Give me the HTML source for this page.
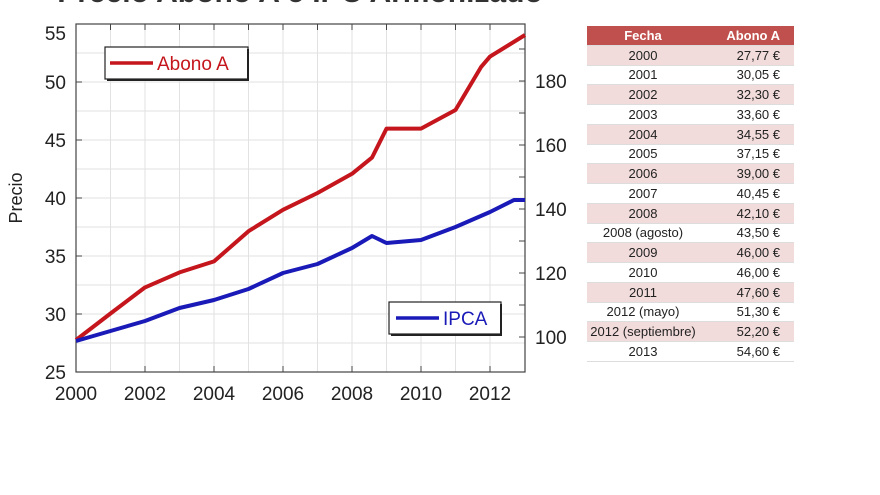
<!DOCTYPE html>
<html><head><meta charset="utf-8"><style>
html,body{margin:0;padding:0;background:#fff;width:880px;height:495px;overflow:hidden}
svg{position:absolute;left:0;top:0}
table{position:absolute;left:587px;top:26px;width:207px;border-collapse:collapse;font-family:"Liberation Sans",sans-serif;font-size:13px;color:#222}
td{height:18.76px;padding:0;border-bottom:1px solid #ddd}
td:first-child{text-align:center;width:112px}
td:last-child{text-align:right;padding-right:14px}
tr.h td{background:#c0504d;color:#fff;font-weight:bold}
tr:nth-child(even) td{background:#f2dcdb}
</style></head><body>
<svg width="880" height="495" font-family="Liberation Sans, sans-serif">
<text x="300" y="2" font-size="30" font-weight="bold" text-anchor="middle" fill="#333">Precio Abono A e IPC Armonizado</text>
<g stroke="#e2e2e2" stroke-width="1">
<line x1="110.5" y1="24" x2="110.5" y2="372"/><line x1="145" y1="24" x2="145" y2="372"/><line x1="179.5" y1="24" x2="179.5" y2="372"/><line x1="214" y1="24" x2="214" y2="372"/><line x1="248.5" y1="24" x2="248.5" y2="372"/><line x1="283" y1="24" x2="283" y2="372"/><line x1="317.5" y1="24" x2="317.5" y2="372"/><line x1="352" y1="24" x2="352" y2="372"/><line x1="386.5" y1="24" x2="386.5" y2="372"/><line x1="421" y1="24" x2="421" y2="372"/><line x1="455.5" y1="24" x2="455.5" y2="372"/><line x1="490" y1="24" x2="490" y2="372"/>
<line x1="76" y1="53" x2="525" y2="53"/><line x1="76" y1="82" x2="525" y2="82"/><line x1="76" y1="111" x2="525" y2="111"/><line x1="76" y1="140" x2="525" y2="140"/><line x1="76" y1="169" x2="525" y2="169"/><line x1="76" y1="198" x2="525" y2="198"/><line x1="76" y1="227" x2="525" y2="227"/><line x1="76" y1="256" x2="525" y2="256"/><line x1="76" y1="285" x2="525" y2="285"/><line x1="76" y1="314" x2="525" y2="314"/><line x1="76" y1="343" x2="525" y2="343"/>
</g>
<rect x="76" y="24" width="449" height="348" fill="none" stroke="#444" stroke-width="1.2"/>
<g stroke="#444" stroke-width="1">
<line x1="76" y1="82" x2="82" y2="82"/><line x1="76" y1="140" x2="82" y2="140"/><line x1="76" y1="198" x2="82" y2="198"/><line x1="76" y1="256" x2="82" y2="256"/><line x1="76" y1="314" x2="82" y2="314"/>
<line x1="519" y1="49" x2="525" y2="49"/><line x1="519" y1="81" x2="525" y2="81"/><line x1="519" y1="113" x2="525" y2="113"/><line x1="519" y1="145" x2="525" y2="145"/><line x1="519" y1="177" x2="525" y2="177"/><line x1="519" y1="209" x2="525" y2="209"/><line x1="519" y1="241" x2="525" y2="241"/><line x1="519" y1="273" x2="525" y2="273"/><line x1="519" y1="305" x2="525" y2="305"/><line x1="519" y1="337" x2="525" y2="337"/>
<line x1="145" y1="372" x2="145" y2="366"/><line x1="214" y1="372" x2="214" y2="366"/><line x1="283" y1="372" x2="283" y2="366"/><line x1="352" y1="372" x2="352" y2="366"/><line x1="421" y1="372" x2="421" y2="366"/><line x1="490" y1="372" x2="490" y2="366"/>
<line x1="110.5" y1="24" x2="110.5" y2="30"/><line x1="145" y1="24" x2="145" y2="30"/><line x1="179.5" y1="24" x2="179.5" y2="30"/><line x1="214" y1="24" x2="214" y2="30"/><line x1="248.5" y1="24" x2="248.5" y2="30"/><line x1="283" y1="24" x2="283" y2="30"/><line x1="317.5" y1="24" x2="317.5" y2="30"/><line x1="352" y1="24" x2="352" y2="30"/><line x1="386.5" y1="24" x2="386.5" y2="30"/><line x1="421" y1="24" x2="421" y2="30"/><line x1="455.5" y1="24" x2="455.5" y2="30"/><line x1="490" y1="24" x2="490" y2="30"/>
</g>
<g font-size="19" fill="#222" text-anchor="end">
<text x="66" y="40">55</text><text x="66" y="89">50</text><text x="66" y="147">45</text><text x="66" y="205">40</text><text x="66" y="263">35</text><text x="66" y="321">30</text><text x="66" y="379">25</text>
</g>
<g font-size="19" fill="#222">
<text x="535" y="88">180</text><text x="535" y="152">160</text><text x="535" y="216">140</text><text x="535" y="280">120</text><text x="535" y="344">100</text>
</g>
<g font-size="19" fill="#222" text-anchor="middle">
<text x="76" y="400">2000</text><text x="145" y="400">2002</text><text x="214" y="400">2004</text><text x="283" y="400">2006</text><text x="352" y="400">2008</text><text x="421" y="400">2010</text><text x="490" y="400">2012</text>
</g>
<text transform="translate(22,198) rotate(-90)" font-size="18" fill="#222" text-anchor="middle">Precio</text>
<polyline fill="none" stroke="#c4161c" stroke-width="4" stroke-linejoin="round" points="76,340 110.5,313.5 145,287.4 179.5,272.4 214,261.4 248.5,231.2 283,209.8 317.5,193 352,173.8 372,157.6 386.5,128.6 421,128.6 455.5,110 481,67.1 490,56.6 525,35"/>
<polyline fill="none" stroke="#1a1ab8" stroke-width="4" stroke-linejoin="round" points="76,341 110.5,331 145,321 179.5,308 214,300 248.5,289 283,273 317.5,264 352,248 372,236 386.5,243 421,240 455.5,227 490,212 514,200 525,200"/>
<rect x="105" y="47" width="143" height="32" fill="#fff" stroke="#222" stroke-width="1.2"/>
<line x1="248" y1="49" x2="248" y2="81" stroke="#222" stroke-width="2"/><line x1="107" y1="80" x2="249" y2="80" stroke="#222" stroke-width="2"/>
<line x1="110" y1="63" x2="153" y2="63" stroke="#c4161c" stroke-width="3.5"/>
<text x="157" y="70" font-size="19" fill="#c4161c">Abono A</text>
<rect x="389" y="302" width="112" height="32" fill="#fff" stroke="#222" stroke-width="1.2"/>
<line x1="501" y1="304" x2="501" y2="336" stroke="#222" stroke-width="2"/><line x1="391" y1="335" x2="502" y2="335" stroke="#222" stroke-width="2"/>
<line x1="396" y1="318" x2="439" y2="318" stroke="#1a1ab8" stroke-width="3.5"/>
<text x="443" y="325" font-size="19" fill="#1a1ab8">IPCA</text>
</svg>
<table>
<tr class="h"><td>Fecha</td><td>Abono A</td></tr>
<tr><td>2000</td><td>27,77 €</td></tr>
<tr><td>2001</td><td>30,05 €</td></tr>
<tr><td>2002</td><td>32,30 €</td></tr>
<tr><td>2003</td><td>33,60 €</td></tr>
<tr><td>2004</td><td>34,55 €</td></tr>
<tr><td>2005</td><td>37,15 €</td></tr>
<tr><td>2006</td><td>39,00 €</td></tr>
<tr><td>2007</td><td>40,45 €</td></tr>
<tr><td>2008</td><td>42,10 €</td></tr>
<tr><td>2008 (agosto)</td><td>43,50 €</td></tr>
<tr><td>2009</td><td>46,00 €</td></tr>
<tr><td>2010</td><td>46,00 €</td></tr>
<tr><td>2011</td><td>47,60 €</td></tr>
<tr><td>2012 (mayo)</td><td>51,30 €</td></tr>
<tr><td>2012 (septiembre)</td><td>52,20 €</td></tr>
<tr><td>2013</td><td>54,60 €</td></tr>
</table>
</body></html>
